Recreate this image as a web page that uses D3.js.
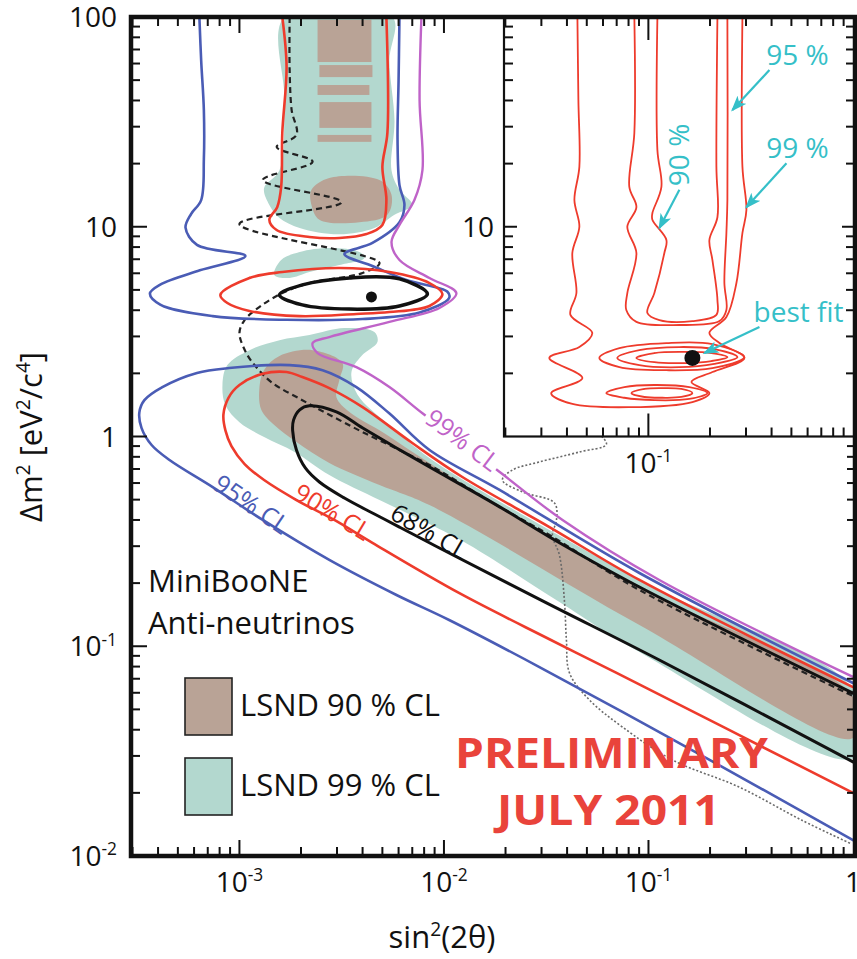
<!DOCTYPE html>
<html>
<head>
<meta charset="utf-8">
<title>MiniBooNE anti-neutrino oscillation fit</title>
<script src="https://cdn.jsdelivr.net/npm/d3@7/dist/d3.min.js"></script>
<style>
  html, body { margin: 0; padding: 0; background: #fff; }
  svg { display: block; }
  text { font-family: "Open Sans", "Noto Sans", sans-serif; }
</style>
</head>
<body>
<svg id="chart" width="857" height="959"></svg>
<script>
// Every point below is [sin²(2θ), Δm² in eV²/c⁴].

// ---- LSND allowed regions ----
const lsnd99Band = [[1.66e-3,100],[5.6e-3,100],[5.41e-3,62],[5.73e-3,32],[5.54e-3,18.6],[6.06e-3,15],[7.0e-3,12.7],[5.73e-3,11.4],[4.57e-3,9.86],[3.08e-3,9.2],[1.97e-3,9.86],[1.57e-3,11.0],[1.4e-3,12.7],[1.32e-3,15.3],[1.57e-3,18.6],[1.66e-3,40]];
const lsnd99Patch = [[1.48e-3,5.89],[1.6e-3,6.94],[1.97e-3,7.58],[2.75e-3,7.92],[3.86e-3,7.58],[4.08e-3,7.10],[3.08e-3,6.57],[2.2e-3,6.08],[1.76e-3,5.70]];
const lsnd99Main = [[8.26e-4,1.76],[8.73e-4,2.19],[1.12e-3,2.58],[1.57e-3,2.88],[2.2e-3,3.05],[3.26e-3,3.29],[4.57e-3,3.15],[4.73e-3,2.82],[3.95e-3,2.42],[3.53e-3,2.03],[3.78e-3,1.58],[5.41e-3,1.13],[8.49e-3,0.79],[0.0328,0.358],[0.113,0.1854],[1,0.0619],[1,0.0293],[0.0903,0.0939],[0.0367,0.1626],[0.0133,0.304],[8.49e-3,0.383],[4.84e-3,0.498],[2.75e-3,0.655],[1.86e-3,0.844],[1.32e-3,0.994],[1e-3,1.17],[8.54e-4,1.41]];
// [x0, x1, y0, y1]
const lsnd90Stripes = [[2.41e-3,4.42e-3,61,97],[2.46e-3,4.47e-3,51.7,59],[2.41e-3,4.32e-3,42.5,47.4],[2.46e-3,4.42e-3,29.6,39.3],[2.41e-3,4.42e-3,25.4,27.4]];
const lsnd90Blob = [[2.25e-3,15.0],[2.75e-3,17.1],[4.84e-3,16.7],[5.54e-3,14.2],[5.29e-3,11.4],[3.86e-3,10.5],[2.46e-3,10.8],[2.25e-3,12.7]];
const lsnd90Main = [[1.25e-3,1.667],[1.32e-3,2.075],[1.57e-3,2.42],[2.28e-3,2.58],[3.19e-3,2.24],[3.08e-3,1.86],[2.98e-3,1.54],[3.45e-3,1.31],[4.84e-3,1.07],[8.49e-3,0.748],[0.0187,0.461],[0.0328,0.332],[0.113,0.1717],[1,0.0573],[1,0.0365],[0.0903,0.1263],[8.49e-3,0.471],[4.84e-3,0.587],[2.75e-3,0.748],[1.9e-3,0.941],[1.48e-3,1.134],[1.28e-3,1.337]];

// ---- MiniBooNE anti-neutrino contours ----
const cl95Upper = [[6.37e-4,100],[6.5e-4,62],[6.7e-4,36],[6.7e-4,21],[6.5e-4,13.4],[5.8e-4,11.5],[5.45e-4,9.9],[6.2e-4,8.2],[1.07e-3,7.25],[6.4e-4,6.2],[4.1e-4,5.3],[3.65e-4,4.8],[4.1e-4,4.25],[7.4e-4,3.75],[1.7e-3,3.6],[4.0e-3,3.63],[7.6e-3,3.9],[1.06e-2,4.57],[1.04e-2,4.9],[6.56e-3,5.57],[4.47e-3,6.5],[3.26e-3,7.41],[4.47e-3,8.37],[6.06e-3,10.5],[6.41e-3,12.7],[6.06e-3,15.8],[5.93e-3,26],[6.0e-3,50],[6.06e-3,100]];
const cl95Lower = [[1,0.0668],[0.0903,0.2235],[0.0187,0.556],[8.5e-3,0.862],[5.4e-3,1.29],[3.73e-3,1.72],[2.55e-3,2.07],[1.76e-3,2.19],[8.9e-4,2.12],[6.2e-4,2.01],[4.2e-4,1.72],[3.43e-4,1.49],[3.24e-4,1.30],[3.32e-4,1.10],[3.72e-4,0.911],[4.55e-4,0.773],[7.4e-4,0.574],[1.3e-3,0.40],[2.75e-3,0.258],[5.86e-3,0.1755],[1.06e-2,0.1334],[2.93e-2,0.0796],[0.0746,0.0486],[0.192,0.0293],[1,0.0119]];
const cl90Upper = [[1.62e-3,100],[1.7e-3,58],[1.62e-3,28],[1.6e-3,15.5],[1.53e-3,12.4],[1.4e-3,10.8],[1.52e-3,9.65],[2.2e-3,8.94],[3.08e-3,8.84],[4.18e-3,9.23],[5.0e-3,10.2],[5.23e-3,13.4],[5.0e-3,19.3],[5.29e-3,28],[5.23e-3,100]];
const cl90Ellipse = [[8.07e-4,4.73],[1.12e-3,5.7],[1.62e-3,6.08],[3.08e-3,6.36],[5.41e-3,6.08],[8.49e-3,5.39],[9.83e-3,4.78],[8.49e-3,4.19],[5.41e-3,3.92],[3.73e-3,3.84],[1.97e-3,3.75],[1.12e-3,3.97],[8.73e-4,4.33]];
const cl90Lower = [[1,0.0639],[0.0903,0.207],[0.0328,0.370],[0.0123,0.641],[7.0e-3,0.931],[4.0e-3,1.38],[2.75e-3,1.70],[2.03e-3,1.92],[1.7e-3,2.03],[1.3e-3,1.99],[1.0e-3,1.76],[8.84e-4,1.53],[8.35e-4,1.27],[8.54e-4,1.07],[9.14e-4,0.90],[1.06e-3,0.739],[1.32e-3,0.62],[1.9e-3,0.498],[2.91e-3,0.40],[4.47e-3,0.311],[0.0119,0.179],[0.0328,0.108],[0.0698,0.0746],[1,0.020]];
const cl99Line = [[7.76e-3,100],[7.6e-3,40],[7.85e-3,18.6],[7.17e-3,13.4],[6.06e-3,10.2],[5.54e-3,8.46],[6.06e-3,6.94],[8.49e-3,5.70],[0.0115,4.83],[9.5e-3,4.10],[5.41e-3,3.52],[2.75e-3,2.98],[2.28e-3,2.79],[2.41e-3,2.50],[3.73e-3,2.14],[5.41e-3,1.72],[7.85e-3,1.29],[0.0123,0.931],[0.0193,0.662],[0.038,0.400],[0.113,0.207],[1,0.0714]];
const cl68Ellipse = [[1.57e-3,4.73],[2.03e-3,5.28],[3.45e-3,5.70],[6.06e-3,5.64],[8.30e-3,4.78],[6.06e-3,4.19],[3.45e-3,4.05],[2.03e-3,4.24]];
const cl68Lower = [[1,0.0598],[0.0903,0.1916],[0.0328,0.332],[0.0181,0.471],[8.5e-3,0.716],[5.86e-3,0.882],[3.99e-3,1.10],[2.98e-3,1.31],[2.2e-3,1.40],[1.97e-3,1.34],[1.84e-3,1.20],[1.82e-3,1.07],[1.9e-3,0.862],[2.1e-3,0.708],[2.46e-3,0.607],[3.26e-3,0.509],[4.57e-3,0.427],[6.06e-3,0.370],[9.5e-3,0.294],[0.0317,0.161],[0.113,0.086],[1,0.0281]];
const dashedContour = [[1.76e-3,100],[1.76e-3,56],[1.8e-3,36],[1.9e-3,27.4],[1.52e-3,24],[2.28e-3,20.4],[1.3e-3,16.7],[3.15e-3,13.1],[1.0e-3,10.3],[4.84e-3,6.72],[4.0e-3,6.02],[2.2e-3,5.39],[1.62e-3,4.83],[1.25e-3,4.14],[1.06e-3,3.59],[1.0e-3,3.12],[1.08e-3,2.5],[1.21e-3,2.14],[1.45e-3,1.80],[2.03e-3,1.49],[2.75e-3,1.27],[4.0e-3,1.05],[6.06e-3,0.862],[8.5e-3,0.731],[0.0181,0.471],[0.0328,0.339],[0.0903,0.1854],[1,0.0579]];
const dottedContour = [[0.0515,1.13],[0.0623,0.921],[0.046,0.844],[0.0293,0.756],[0.0216,0.692],[0.0193,0.62],[0.0242,0.544],[0.0347,0.482],[0.0355,0.40],[0.0339,0.339],[0.0367,0.272],[0.0388,0.166],[0.0397,0.107],[0.0411,0.0746],[0.0515,0.0554],[0.0746,0.0412],[0.131,0.0287],[0.278,0.0213],[0.563,0.0148],[0.967,0.0115]];
const bestFit = [4.42e-3, 4.63];

// ---- inset fit ----
const inset99 = [[0.045,100],[0.0455,40.2],[0.046,19.3],[0.0435,13.4],[0.046,10.0],[0.0425,7.50],[0.0445,4.83],[0.0416,3.80],[0.0532,3.12],[0.046,2.67],[0.0328,2.37],[0.0476,1.90],[0.0335,1.61],[0.0425,1.43],[0.0807,1.38],[0.1641,1.46],[0.1987,1.61],[0.1623,1.82],[0.2056,2.03],[0.2946,2.37],[0.2225,2.79],[0.1987,3.12],[0.2406,3.71],[0.2693,5.39],[0.2882,9.34],[0.3013,12.0],[0.2882,19.3],[0.2882,100]];
const inset95 = [[0.0854,100],[0.0854,28.0],[0.0807,15.5],[0.0874,12.4],[0.0789,10.0],[0.0874,7.50],[0.0789,4.83],[0.078,4.01],[0.0874,3.52],[0.1418,3.40],[0.2225,3.55],[0.2406,4.01],[0.2352,5.39],[0.2406,9.34],[0.2433,13.4],[0.2433,100]];
const inset90 = [[0.1107,100],[0.1107,23.2],[0.1158,15.5],[0.1046,11.6],[0.1046,10.8],[0.1225,8.65],[0.1197,7.50],[0.107,4.83],[0.0989,3.88],[0.1132,3.59],[0.1641,3.55],[0.215,3.80],[0.2175,4.48],[0.2056,6.94],[0.1987,8.65],[0.2175,11.1],[0.215,19.3],[0.2175,100]];
const insetIslands = [
  [[0.0576,2.37],[0.0722,2.64],[0.1225,2.79],[0.2056,2.76],[0.2946,2.39],[0.2056,2.12],[0.1225,2.07],[0.0722,2.14]],
  [[0.0705,2.37],[0.0903,2.58],[0.1418,2.67],[0.2102,2.61],[0.2724,2.39],[0.2102,2.22],[0.1418,2.14],[0.0903,2.19]],
  [[0.0874,2.37],[0.107,2.50],[0.1534,2.53],[0.2033,2.50],[0.2433,2.39],[0.2033,2.29],[0.1534,2.24],[0.107,2.26]],
  [[0.0623,1.61],[0.0763,1.72],[0.107,1.76],[0.1586,1.72],[0.1943,1.61],[0.1586,1.51],[0.107,1.49],[0.0763,1.53]],
  [[0.0826,1.61],[0.0956,1.685],[0.1171,1.70],[0.145,1.685],[0.1641,1.61],[0.145,1.543],[0.1171,1.53],[0.0956,1.543]]
];
const insetBestFit = [0.1641, 2.37];

// ---- axis labels ----
const xTickLabels = [{v:1e-3, b:"10", s:"-3"}, {v:1e-2, b:"10", s:"-2"}, {v:1e-1, b:"10", s:"-1"}, {v:1, b:"1"}];
const yTickLabels = [{v:100, b:"100"}, {v:10, b:"10"}, {v:1, b:"1"}, {v:0.1, b:"10", s:"-1"}, {v:0.01, b:"10", s:"-2"}];
const insetXLabels = [{v:0.1, b:"10", s:"-1"}];
const insetYLabels = [{v:10, b:"10"}];

const COL = { blue:"#4a5cb5", red:"#ee3b2c", magenta:"#bf63c8", black:"#111", teal:"#b3d8cf",
  brown:"#b9a396", cyan:"#35bfc8", grey:"#6a6a6a", prelim:"#e9433b" };

const svg = d3.select("#chart");
const P = {l:131, t:17, r:853, b:856};
const x = d3.scaleLog().domain([2.95e-4, 1]).range([P.l, P.r]);
const y = d3.scaleLog().domain([0.01, 100]).range([P.b, P.t]);

const IB = {l:504, t:17, r:855, b:436.5};
const ix = d3.scaleLog().domain([0.0197, 1]).range([IB.l, P.r]);
const iy = d3.scaleLog().domain([1, 100]).range([IB.b, IB.t]);

const defs = svg.append("defs");
defs.append("clipPath").attr("id","plotClip").append("rect")
  .attr("x",P.l).attr("y",P.t).attr("width",P.r - P.l + 2).attr("height",P.b - P.t);
defs.append("clipPath").attr("id","insetClip").append("rect")
  .attr("x",IB.l).attr("y",IB.t).attr("width",IB.r - IB.l).attr("height",IB.b - IB.t);
defs.append("marker").attr("id","arrowHead").attr("viewBox","0 0 16 12")
  .attr("refX",14).attr("refY",6).attr("markerWidth",16).attr("markerHeight",12)
  .attr("markerUnits","userSpaceOnUse").attr("orient","auto")
  .append("path").attr("d","M0,0 L16,6 L0,12 L4,6 Z").attr("fill",COL.cyan);

const lineGen = (sx, sy, closed) => d3.line().x(d => sx(d[0])).y(d => sy(d[1]))
  .curve(closed ? d3.curveCatmullRomClosed.alpha(0.5) : d3.curveCatmullRom.alpha(0.5));

svg.append("rect").attr("width",857).attr("height",959).attr("fill","#fff");

// ---------- main panel ----------
const main = svg.append("g").attr("clip-path","url(#plotClip)");

// LSND fills
[lsnd99Band, lsnd99Patch, lsnd99Main].forEach(poly =>
  main.append("path").attr("d", lineGen(x, y, true)(poly)).attr("fill", COL.teal));
lsnd90Stripes.forEach(([x0, x1, y0, y1]) =>
  main.append("rect").attr("x", x(x0)).attr("y", y(y1)).attr("width", x(x1) - x(x0))
    .attr("height", y(y0) - y(y1)).attr("fill", COL.brown));
[lsnd90Blob, lsnd90Main].forEach(poly =>
  main.append("path").attr("d", lineGen(x, y, true)(poly)).attr("fill", COL.brown));

function stroke(g, data, sx, sy, closed, color, width, dash) {
  const p = g.append("path").attr("d", lineGen(sx, sy, closed)(data))
    .attr("fill","none").attr("stroke", color).attr("stroke-width", width)
    .attr("stroke-linejoin","round").attr("stroke-linecap","round");
  if (dash) p.attr("stroke-dasharray", dash).attr("stroke-linecap","butt");
  return p;
}

stroke(main, dottedContour, x, y, false, COL.grey, 1.6, "2,2");
stroke(main, dashedContour, x, y, false, "#222", 2.2, "6,4");
stroke(main, cl95Upper, x, y, false, COL.blue, 2.6);
stroke(main, cl95Lower, x, y, false, COL.blue, 2.6);
stroke(main, cl90Upper, x, y, false, COL.red, 2.6);
stroke(main, cl90Ellipse, x, y, true, COL.red, 2.6);
stroke(main, cl90Lower, x, y, false, COL.red, 2.6);
stroke(main, cl99Line, x, y, false, COL.magenta, 2.4);
stroke(main, cl68Lower, x, y, false, COL.black, 3);
stroke(main, cl68Ellipse, x, y, true, COL.black, 3.5);
main.append("circle").attr("cx", x(bestFit[0])).attr("cy", y(bestFit[1])).attr("r", 5.5).attr("fill", COL.black);

// contour labels laid along the curves; the 99% one interrupts its line
const clLabels = [
  {t:"95% CL", at:[1.145e-3, 0.475], a:34, c:COL.blue},
  {t:"90% CL", at:[2.85e-3, 0.436], a:31, c:COL.red},
  {t:"68% CL", at:[8.49e-3, 0.352], a:30, c:COL.black},
  {t:"99% CL", at:[0.01232, 0.96], a:37, c:COL.magenta, gap:true}
];
clLabels.forEach(d => {
  const g = main.append("g")
    .attr("transform", `translate(${x(d.at[0])},${y(d.at[1])}) rotate(${d.a})`);
  const t = g.append("text").attr("text-anchor","middle").attr("dy","0.35em")
    .attr("font-size", 25).attr("fill", d.c).text(d.t);
  if (d.gap) {
    const bb = t.node().getBBox();
    g.insert("rect", "text").attr("x", bb.x - 2).attr("y", bb.y + 5)
      .attr("width", bb.width + 4).attr("height", bb.height - 10).attr("fill", "#fff");
  }
});

// ---------- inset ----------
svg.append("rect").attr("x",IB.l).attr("y",IB.t).attr("width",IB.r - IB.l).attr("height",IB.b - IB.t)
  .attr("fill","#fff");
const ins = svg.append("g").attr("clip-path","url(#insetClip)");
[inset99, inset95, inset90].forEach(c => stroke(ins, c, ix, iy, false, COL.red, 1.8));
insetIslands.forEach(c => stroke(ins, c, ix, iy, true, COL.red, 1.8));
ins.append("circle").attr("cx", ix(insetBestFit[0])).attr("cy", iy(insetBestFit[1])).attr("r", 8).attr("fill", COL.black);

const insetNotes = [
  {t:"95 %", at:[0.5355, 59.0], from:[0.3905, 55.9], to:[0.2575, 36.0]},
  {t:"99 %", at:[0.5355, 21.3], from:[0.473, 20.1], to:[0.3013, 12.4]},
  {t:"90 %", at:[0.1586, 22.0], rot:-90, from:[0.1418, 15.0], to:[0.1132, 9.86]},
  {t:"best fit", at:[0.5415, 3.52], from:[0.349, 3.33], to:[0.1879, 2.50]}
];
insetNotes.forEach(d => {
  ins.append("line").attr("x1", ix(d.from[0])).attr("y1", iy(d.from[1]))
    .attr("x2", ix(d.to[0])).attr("y2", iy(d.to[1]))
    .attr("stroke", COL.cyan).attr("stroke-width", 2.2).attr("marker-end","url(#arrowHead)");
  ins.append("text")
    .attr("transform", `translate(${ix(d.at[0])},${iy(d.at[1])})` + (d.rot ? ` rotate(${d.rot})` : ""))
    .attr("text-anchor","middle").attr("font-size", 28).attr("fill", COL.cyan).text(d.t);
});

// ---------- ticks ----------
function logTicks(lo, hi) {
  const out = [];
  for (let e = Math.floor(Math.log10(lo)); e <= Math.ceil(Math.log10(hi)); e++)
    for (let k = 1; k <= 9; k++) {
      const v = k * Math.pow(10, e);
      if (v > lo * 1.002 && v < hi / 1.002) out.push({v, major: k === 1});
    }
  return out;
}
const tk = svg.append("g").attr("stroke","#111").attr("stroke-width",2);
logTicks(0.01, 100).forEach(d => {
  const len = d.major ? 16 : 9;
  tk.append("line").attr("x1",P.l).attr("x2",P.l + len).attr("y1",y(d.v)).attr("y2",y(d.v));
  if (d.v < 1) tk.append("line").attr("x1",P.r + 2).attr("x2",P.r + 2 - len + 1).attr("y1",y(d.v)).attr("y2",y(d.v));
});
logTicks(2.95e-4, 1).forEach(d => {
  const len = d.major ? 16 : 9;
  tk.append("line").attr("x1",x(d.v)).attr("x2",x(d.v)).attr("y1",P.b).attr("y2",P.b - len);
  if (x(d.v) < IB.l - 2) tk.append("line").attr("x1",x(d.v)).attr("x2",x(d.v)).attr("y1",P.t).attr("y2",P.t + len);
});
logTicks(0.0197, 1).forEach(d => {
  const len = d.major ? 23 : 9;
  tk.append("line").attr("x1",ix(d.v)).attr("x2",ix(d.v)).attr("y1",IB.b).attr("y2",IB.b - len);
  tk.append("line").attr("x1",ix(d.v)).attr("x2",ix(d.v)).attr("y1",IB.t).attr("y2",IB.t + len);
});
logTicks(1, 100).forEach(d => {
  const len = d.major ? 13 : 9;
  tk.append("line").attr("x1",IB.l).attr("x2",IB.l + len).attr("y1",iy(d.v)).attr("y2",iy(d.v));
  tk.append("line").attr("x1",IB.r).attr("x2",IB.r - len).attr("y1",iy(d.v)).attr("y2",iy(d.v));
});

// frames
svg.append("rect").attr("x",IB.l).attr("y",IB.t).attr("width",IB.r - IB.l).attr("height",IB.b - IB.t)
  .attr("fill","none").attr("stroke","#111").attr("stroke-width",2.2);
svg.append("rect").attr("x",P.l).attr("y",P.t).attr("width",P.r + 2 - P.l).attr("height",P.b - P.t)
  .attr("fill","none").attr("stroke","#111").attr("stroke-width",4.5);

// ---------- tick labels ----------
function powLabel(sel, d, size) {
  sel.append("tspan").text(d.b);
  if (d.s) sel.append("tspan").attr("font-size", size * 0.62).attr("dy", -size * 0.38).text(d.s);
}
yTickLabels.forEach(d => {
  const t = svg.append("text").attr("x", 117).attr("y", y(d.v) + 10).attr("text-anchor","end")
    .attr("font-size", 28).attr("fill","#111");
  powLabel(t, d, 28);
});
xTickLabels.forEach(d => {
  const t = svg.append("text").attr("x", x(d.v)).attr("y", 892).attr("text-anchor","middle")
    .attr("font-size", 28).attr("fill","#111");
  powLabel(t, d, 28);
});
insetYLabels.forEach(d => {
  const t = svg.append("text").attr("x", 494).attr("y", iy(d.v) + 10).attr("text-anchor","end")
    .attr("font-size", 28).attr("fill","#111");
  powLabel(t, d, 28);
});
insetXLabels.forEach(d => {
  const t = svg.append("text").attr("x", ix(d.v)).attr("y", 473).attr("text-anchor","middle")
    .attr("font-size", 28).attr("fill","#111");
  powLabel(t, d, 28);
});

// ---------- axis titles ----------
function rich(sel, parts, size) {
  let up = false;
  parts.forEach(p => {
    const t = sel.append("tspan").text(p[0]);
    if (p[1]) { t.attr("font-size", size * 0.62).attr("dy", -size * 0.4); up = true; }
    else if (up) { t.attr("dy", size * 0.4); up = false; }
  });
}
rich(svg.append("text").attr("x", 442).attr("y", 948).attr("text-anchor","middle")
  .attr("font-size", 31).attr("fill","#111"),
  [["sin",0],["2",1],["(2θ)",0]], 31);
rich(svg.append("text").attr("transform","translate(42,437) rotate(-90)").attr("text-anchor","middle")
  .attr("font-size", 31).attr("fill","#111"),
  [["Δm",0],["2",1],[" [eV",0],["2",1],["/c",0],["4",1],["]",0]], 31);

// ---------- legend and notes ----------
svg.append("text").attr("x",148).attr("y",592).attr("font-size",31).attr("fill","#111").text("MiniBooNE");
svg.append("text").attr("x",148).attr("y",634).attr("font-size",31).attr("fill","#111").text("Anti-neutrinos");
const legend = [{t:"LSND 90 % CL", c:COL.brown}, {t:"LSND 99 % CL", c:COL.teal}];
legend.forEach((d, i) => {
  svg.append("rect").attr("x",185).attr("y",678 + i * 80).attr("width",47).attr("height",57)
    .attr("fill",d.c).attr("stroke","#222").attr("stroke-width",1.6);
  svg.append("text").attr("x",240).attr("y",716 + i * 80).attr("font-size",31).attr("fill","#111").text(d.t);
});
svg.append("text").attr("x",455).attr("y",768).attr("textLength",313).attr("lengthAdjust","spacingAndGlyphs")
  .attr("font-family","Lato, sans-serif").attr("font-weight",700).attr("font-size",41)
  .attr("fill",COL.prelim).text("PRELIMINARY");
svg.append("text").attr("x",497).attr("y",825).attr("textLength",223).attr("lengthAdjust","spacingAndGlyphs")
  .attr("font-family","Lato, sans-serif").attr("font-weight",700).attr("font-size",41)
  .attr("fill",COL.prelim).text("JULY 2011");
</script>
</body>
</html>
